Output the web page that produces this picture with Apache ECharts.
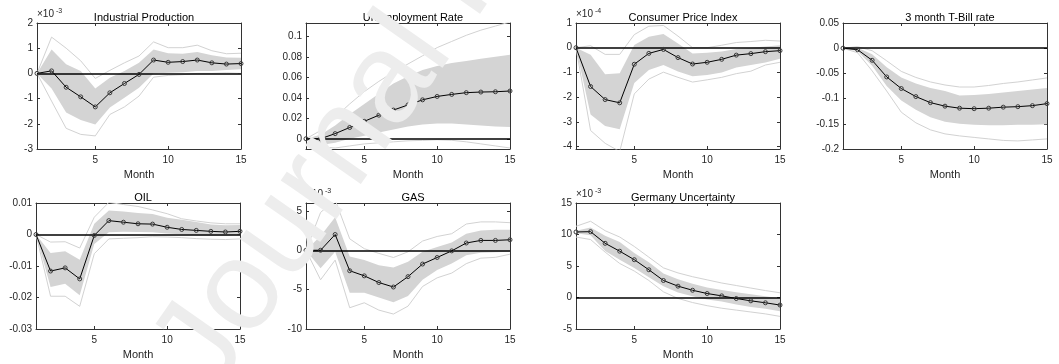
<!DOCTYPE html>
<html><head><meta charset="utf-8">
<script src="https://cdn.jsdelivr.net/npm/echarts@6/dist/echarts.min.js"></script>
<style>html,body{margin:0;padding:0;background:#fff}#c{width:1059px;height:364px}</style>
</head><body><div id="c"></div>
<script>
// horizon (months)
const months = [1,2,3,4,5,6,7,8,9,10,11,12,13,14,15];
const xTicks = [5,10,15];

// Industrial Production (x10^-3)
const ipMed  = [0, 0.1, -0.55, -0.93, -1.33, -0.77, -0.4, -0.04, 0.53, 0.44, 0.47, 0.53, 0.42, 0.37, 0.39];
const ipHi68 = [0, 0.95, 0.36, 0.1, -0.6, -0.17, 0.1, 0.42, 0.95, 0.8, 0.78, 0.85, 0.72, 0.63, 0.62];
const ipLo68 = [0, -0.6, -1.55, -1.85, -2.03, -1.35, -0.97, -0.57, 0.0, 0.03, 0.05, 0.1, 0.1, 0.13, 0.16];
const ipHi90 = [0, 1.44, 1.0, 0.5, -0.2, 0.12, 0.42, 0.69, 1.25, 1.02, 1.02, 1.12, 0.9, 0.78, 0.8];
const ipLo90 = [0, -1.1, -2.18, -2.42, -2.48, -1.63, -1.33, -0.9, -0.15, -0.08, -0.05, 0.0, 0.0, 0.02, 0.0];
const ipTicks = [-3,-2,-1,0,1,2];

// Unemployment Rate
const urMed  = [0, 0, 0.005, 0.011, 0.017, 0.023, 0.028, 0.033, 0.038, 0.0413, 0.0433, 0.045, 0.0456, 0.0459, 0.0466];
const urHi68 = [0, 0.004, 0.013, 0.024, 0.034, 0.044, 0.054, 0.061, 0.067, 0.071, 0.074, 0.076, 0.078, 0.08, 0.082];
const urLo68 = [0, -0.006, -0.004, 0.0, 0.003, 0.006, 0.009, 0.012, 0.014, 0.015, 0.015, 0.014, 0.013, 0.012, 0.0115];
const urHi90 = [0, 0.008, 0.021, 0.034, 0.046, 0.056, 0.065, 0.073, 0.081, 0.089, 0.095, 0.101, 0.106, 0.110, 0.114];
const urLo90 = [0, -0.008, -0.009, -0.007, -0.005, -0.004, -0.003, -0.002, -0.0016, -0.001, -0.0015, -0.003, -0.005, -0.007, -0.009];
const urTicks = [0, 0.02, 0.04, 0.06, 0.08, 0.1];

// Consumer Price Index (x10^-4)
const cpiMed  = [0, -1.57, -2.1, -2.23, -0.67, -0.23, -0.07, -0.4, -0.66, -0.59, -0.47, -0.3, -0.24, -0.16, -0.12];
const cpiHi68 = [0, -0.29, -1.07, -1.03, 0.11, 0.44, 0.55, 0.17, -0.23, -0.2, -0.15, -0.05, 0.0, 0.05, 0.1];
const cpiLo68 = [0, -2.7, -3.17, -3.3, -1.43, -0.9, -0.7, -0.96, -1.16, -1.1, -1.0, -0.8, -0.7, -0.6, -0.45];
const cpiHi90 = [0, 0.08, -0.27, -0.27, 0.53, 0.87, 0.9, 0.47, 0.0, 0.0, 0.1, 0.21, 0.25, 0.3, 0.27];
const cpiLo90 = [0, -3.35, -3.87, -4.2, -1.87, -1.27, -0.99, -1.2, -1.39, -1.3, -1.2, -1.05, -0.95, -0.7, -0.59];
const cpiTicks = [-4,-3,-2,-1,0,1];

// 3 month T-Bill rate
const tbMed  = [0, -0.003, -0.024, -0.057, -0.08, -0.096, -0.108, -0.115, -0.119, -0.12, -0.119, -0.117, -0.116, -0.114, -0.11];
const tbHi68 = [0, 0.001, -0.012, -0.038, -0.058, -0.07, -0.079, -0.085, -0.094, -0.093, -0.091, -0.088, -0.085, -0.082, -0.079];
const tbLo68 = [0, -0.006, -0.035, -0.075, -0.104, -0.122, -0.137, -0.146, -0.15, -0.152, -0.153, -0.153, -0.152, -0.152, -0.151];
const tbHi90 = [0, 0.003, -0.005, -0.025, -0.046, -0.058, -0.067, -0.073, -0.077, -0.077, -0.074, -0.07, -0.067, -0.063, -0.059];
const tbLo90 = [0, -0.009, -0.045, -0.085, -0.127, -0.148, -0.162, -0.17, -0.174, -0.177, -0.18, -0.183, -0.184, -0.182, -0.18];
const tbTicks = [-0.2, -0.15, -0.1, -0.05, 0, 0.05];

// OIL
const oilMed  = [0, -0.0116, -0.0106, -0.0141, -0.0003, 0.0044, 0.0039, 0.0034, 0.0033, 0.0023, 0.0016, 0.0013, 0.001, 0.0008, 0.001];
const oilHi68 = [0, -0.0059, -0.0053, -0.008, 0.0034, 0.0076, 0.0073, 0.0068, 0.0065, 0.0053, 0.0047, 0.004, 0.0032, 0.0029, 0.003];
const oilLo68 = [0, -0.0167, -0.0156, -0.0193, -0.003, 0.0007, 0.0009, 0.0008, 0.0007, 0.0003, 0.0001, -0.0002, -0.0004, -0.0004, 0];
const oilHi90 = [0, -0.0024, -0.0023, -0.0043, 0.0055, 0.0102, 0.0095, 0.0089, 0.0078, 0.0066, 0.005, 0.0043, 0.0037, 0.0034, 0.0034];
const oilLo90 = [0, -0.0196, -0.0196, -0.0228, -0.0061, -0.0014, -0.0012, -0.001, -0.0007, -0.0008, -0.001, -0.0013, -0.0015, -0.0016, -0.0014];
const oilTicks = [-0.03, -0.02, -0.01, 0, 0.01];

// GAS (x10^-3)
const gasMed  = [0, 0, 2.0, -2.6, -3.25, -4.1, -4.67, -3.35, -1.75, -0.92, -0.08, 0.92, 1.25, 1.25, 1.33];
const gasHi68 = [0, 1.8, 4.2, -0.8, -1.25, -1.9, -2.2, -1.45, -0.2, 0.4, 1.0, 2.1, 2.5, 2.6, 2.6];
const gasLo68 = [0, -2.3, -0.2, -5.4, -5.4, -6.0, -6.6, -5.8, -3.75, -2.5, -1.67, -0.63, -0.33, -0.25, -0.2];
const gasHi90 = [0, 4.8, 6.4, 1.45, 0.2, -0.4, -0.92, -0.2, 1.17, 1.75, 2.1, 3.33, 3.6, 3.6, 3.5];
const gasLo90 = [0, -3.75, -1.25, -7.3, -6.67, -7.6, -8.1, -7.1, -4.6, -3.5, -2.9, -1.7, -1.0, -0.9, -0.5];
const gasTicks = [-10, -5, 0, 5];

// Germany Uncertainty (x10^-3)
const geMed  = [10.4, 10.45, 8.6, 7.35, 6.0, 4.4, 2.7, 1.8, 1.15, 0.63, 0.26, -0.16, -0.53, -0.84, -1.2];
const geHi68 = [10.6, 11.1, 9.8, 8.8, 7.05, 5.6, 3.8, 2.9, 2.2, 1.6, 1.2, 0.85, 0.5, 0.2, -0.1];
const geLo68 = [10.2, 9.9, 7.4, 6.0, 4.7, 3.2, 1.8, 0.8, 0.2, -0.3, -0.65, -1.1, -1.5, -1.8, -2.2];
const geHi90 = [11.3, 12.1, 10.6, 9.6, 8.1, 6.4, 4.7, 3.9, 3.3, 2.8, 2.3, 1.9, 1.5, 1.1, 0.75];
const geLo90 = [9.6, 9.2, 7.2, 5.4, 4.2, 2.7, 0.9, -0.15, -0.8, -1.3, -1.7, -2.0, -2.3, -2.6, -3.0];
const geTicks = [-5, 0, 5, 10, 15];

const panels = [
  {title:'Industrial Production', med:ipMed, hi68:ipHi68, lo68:ipLo68, hi90:ipHi90, lo90:ipLo90, ticks:ipTicks, min:-3, max:2, exp:'-3', left:37, top:23},
  {title:'Unemployment Rate', med:urMed, hi68:urHi68, lo68:urLo68, hi90:urHi90, lo90:urLo90, ticks:urTicks, min:-0.01, max:0.113, exp:null, left:306, top:23},
  {title:'Consumer Price Index', med:cpiMed, hi68:cpiHi68, lo68:cpiLo68, hi90:cpiHi90, lo90:cpiLo90, ticks:cpiTicks, min:-4.1, max:1, exp:'-4', left:576, top:23},
  {title:'3 month T-Bill rate', med:tbMed, hi68:tbHi68, lo68:tbLo68, hi90:tbHi90, lo90:tbLo90, ticks:tbTicks, min:-0.2, max:0.05, exp:null, left:843, top:23},
  {title:'OIL', med:oilMed, hi68:oilHi68, lo68:oilLo68, hi90:oilHi90, lo90:oilLo90, ticks:oilTicks, min:-0.03, max:0.01, exp:null, left:36, top:203},
  {title:'GAS', med:gasMed, hi68:gasHi68, lo68:gasLo68, hi90:gasHi90, lo90:gasLo90, ticks:gasTicks, min:-10, max:6, exp:'-3', left:306, top:203},
  {title:'Germany Uncertainty', med:geMed, hi68:geHi68, lo68:geLo68, hi90:geHi90, lo90:geLo90, ticks:geTicks, min:-5, max:15, exp:'-3', left:576, top:203}
];
const W = 204, H = 126;
const FONT = 'Liberation Sans, Arial, Helvetica, sans-serif';
const AXC = '#333333';

const grid = [], xAxis = [], yAxis = [], series = [], title = [], graphic = [];
panels.forEach((p, i) => {
  grid.push({left:p.left, top:p.top, width:W, height:H, containLabel:false});
  const tickX = {show:true, inside:true, length:3, customValues:xTicks, lineStyle:{color:AXC, width:1}};
  const tickY = {show:true, inside:true, length:3, customValues:p.ticks, lineStyle:{color:AXC, width:1}};
  const line = {show:true, onZero:false, lineStyle:{color:AXC, width:1}};
  xAxis.push({gridIndex:i, type:'value', min:1, max:15, position:'bottom', axisLine:line, axisTick:tickX,
    axisLabel:{customValues:xTicks, fontSize:10, color:'#262626', margin:6, fontFamily:FONT},
    splitLine:{show:false}, name:'Month', nameLocation:'middle', nameGap:20,
    nameTextStyle:{fontSize:11, color:'#262626', fontFamily:FONT}});
  xAxis.push({gridIndex:i, type:'value', min:1, max:15, position:'top', axisLine:line, axisTick:tickX,
    axisLabel:{show:false}, splitLine:{show:false}});
  yAxis.push({gridIndex:i, type:'value', min:p.min, max:p.max, position:'left', axisLine:line, axisTick:tickY,
    axisLabel:{customValues:p.ticks, fontSize:10, color:'#262626', margin:4, fontFamily:FONT},
    splitLine:{show:false}});
  yAxis.push({gridIndex:i, type:'value', min:p.min, max:p.max, position:'right', axisLine:line, axisTick:tickY,
    axisLabel:{show:false}, splitLine:{show:false}});
  const xa = 2*i, ya = 2*i;
  // inner band as polygon through the axes' scales
  series.push({type:'custom', xAxisIndex:xa, yAxisIndex:ya, silent:true, clip:true, z:1,
    data: months.map((m,k)=>[m, p.hi68[k]]),
    renderItem: (params, api) => {
      if (params.dataIndex !== 0) return null;
      const pts = [];
      months.forEach((m,k)=>pts.push(api.coord([m, p.hi68[k]])));
      for (let k = months.length-1; k >= 0; k--) pts.push(api.coord([months[k], p.lo68[k]]));
      return {type:'polygon', shape:{points:pts}, style:{fill:'#d4d4d4', stroke:null}};
    }});
  const outer = (arr) => ({type:'line', xAxisIndex:xa, yAxisIndex:ya, silent:true, z:2, symbol:'none',
    data: months.map((m,k)=>[m, arr[k]]), lineStyle:{color:'#d2d2d2', width:1}, clip:true});
  series.push(outer(p.hi90));
  series.push(outer(p.lo90));
  series.push({type:'line', xAxisIndex:xa, yAxisIndex:ya, silent:true, z:4, symbol:'circle', symbolSize:4,
    data: months.map((m,k)=>[m, p.med[k]]),
    lineStyle:{color:'#000', width:1},
    itemStyle:{color:'rgba(0,0,0,0)', borderColor:'#3a3a3a', borderWidth:1},
    markLine:{silent:true, symbol:'none', label:{show:false}, z:3,
      lineStyle:{color:'#000', width:1.5, type:'solid'}, data:[{yAxis:0}]}});
  title.push({text:p.title, left:p.left + W/2, top:p.top - 16, textAlign:'center',
    textStyle:{fontSize:11, fontWeight:'normal', color:'#000', fontFamily:FONT}});
  if (p.exp) {
    graphic.push({type:'text', x:p.left, y:p.top - 4, z:50,
      style:{text:'\u00d710', fontSize:10, fontFamily:FONT, fill:'#262626', verticalAlign:'bottom', align:'left'}});
    graphic.push({type:'text', x:p.left + 19, y:p.top - 8, z:50,
      style:{text:p.exp, fontSize:7, fontFamily:FONT, fill:'#262626', verticalAlign:'bottom', align:'left'}});
  }
});
// watermark
graphic.push({type:'text', x:184, y:375, rotation:0.96, z:100, silent:true,
  style:{text:'Journal Pre-proof', fontSize:128, fontFamily:FONT, fill:'#ededed', align:'left', verticalAlign:'middle'}});

const chart = echarts.init(document.getElementById('c'), null, {renderer:'canvas'});
chart.setOption({animation:false, backgroundColor:'#fff', grid, xAxis, yAxis, series, title, graphic});
</script>
</body></html>
